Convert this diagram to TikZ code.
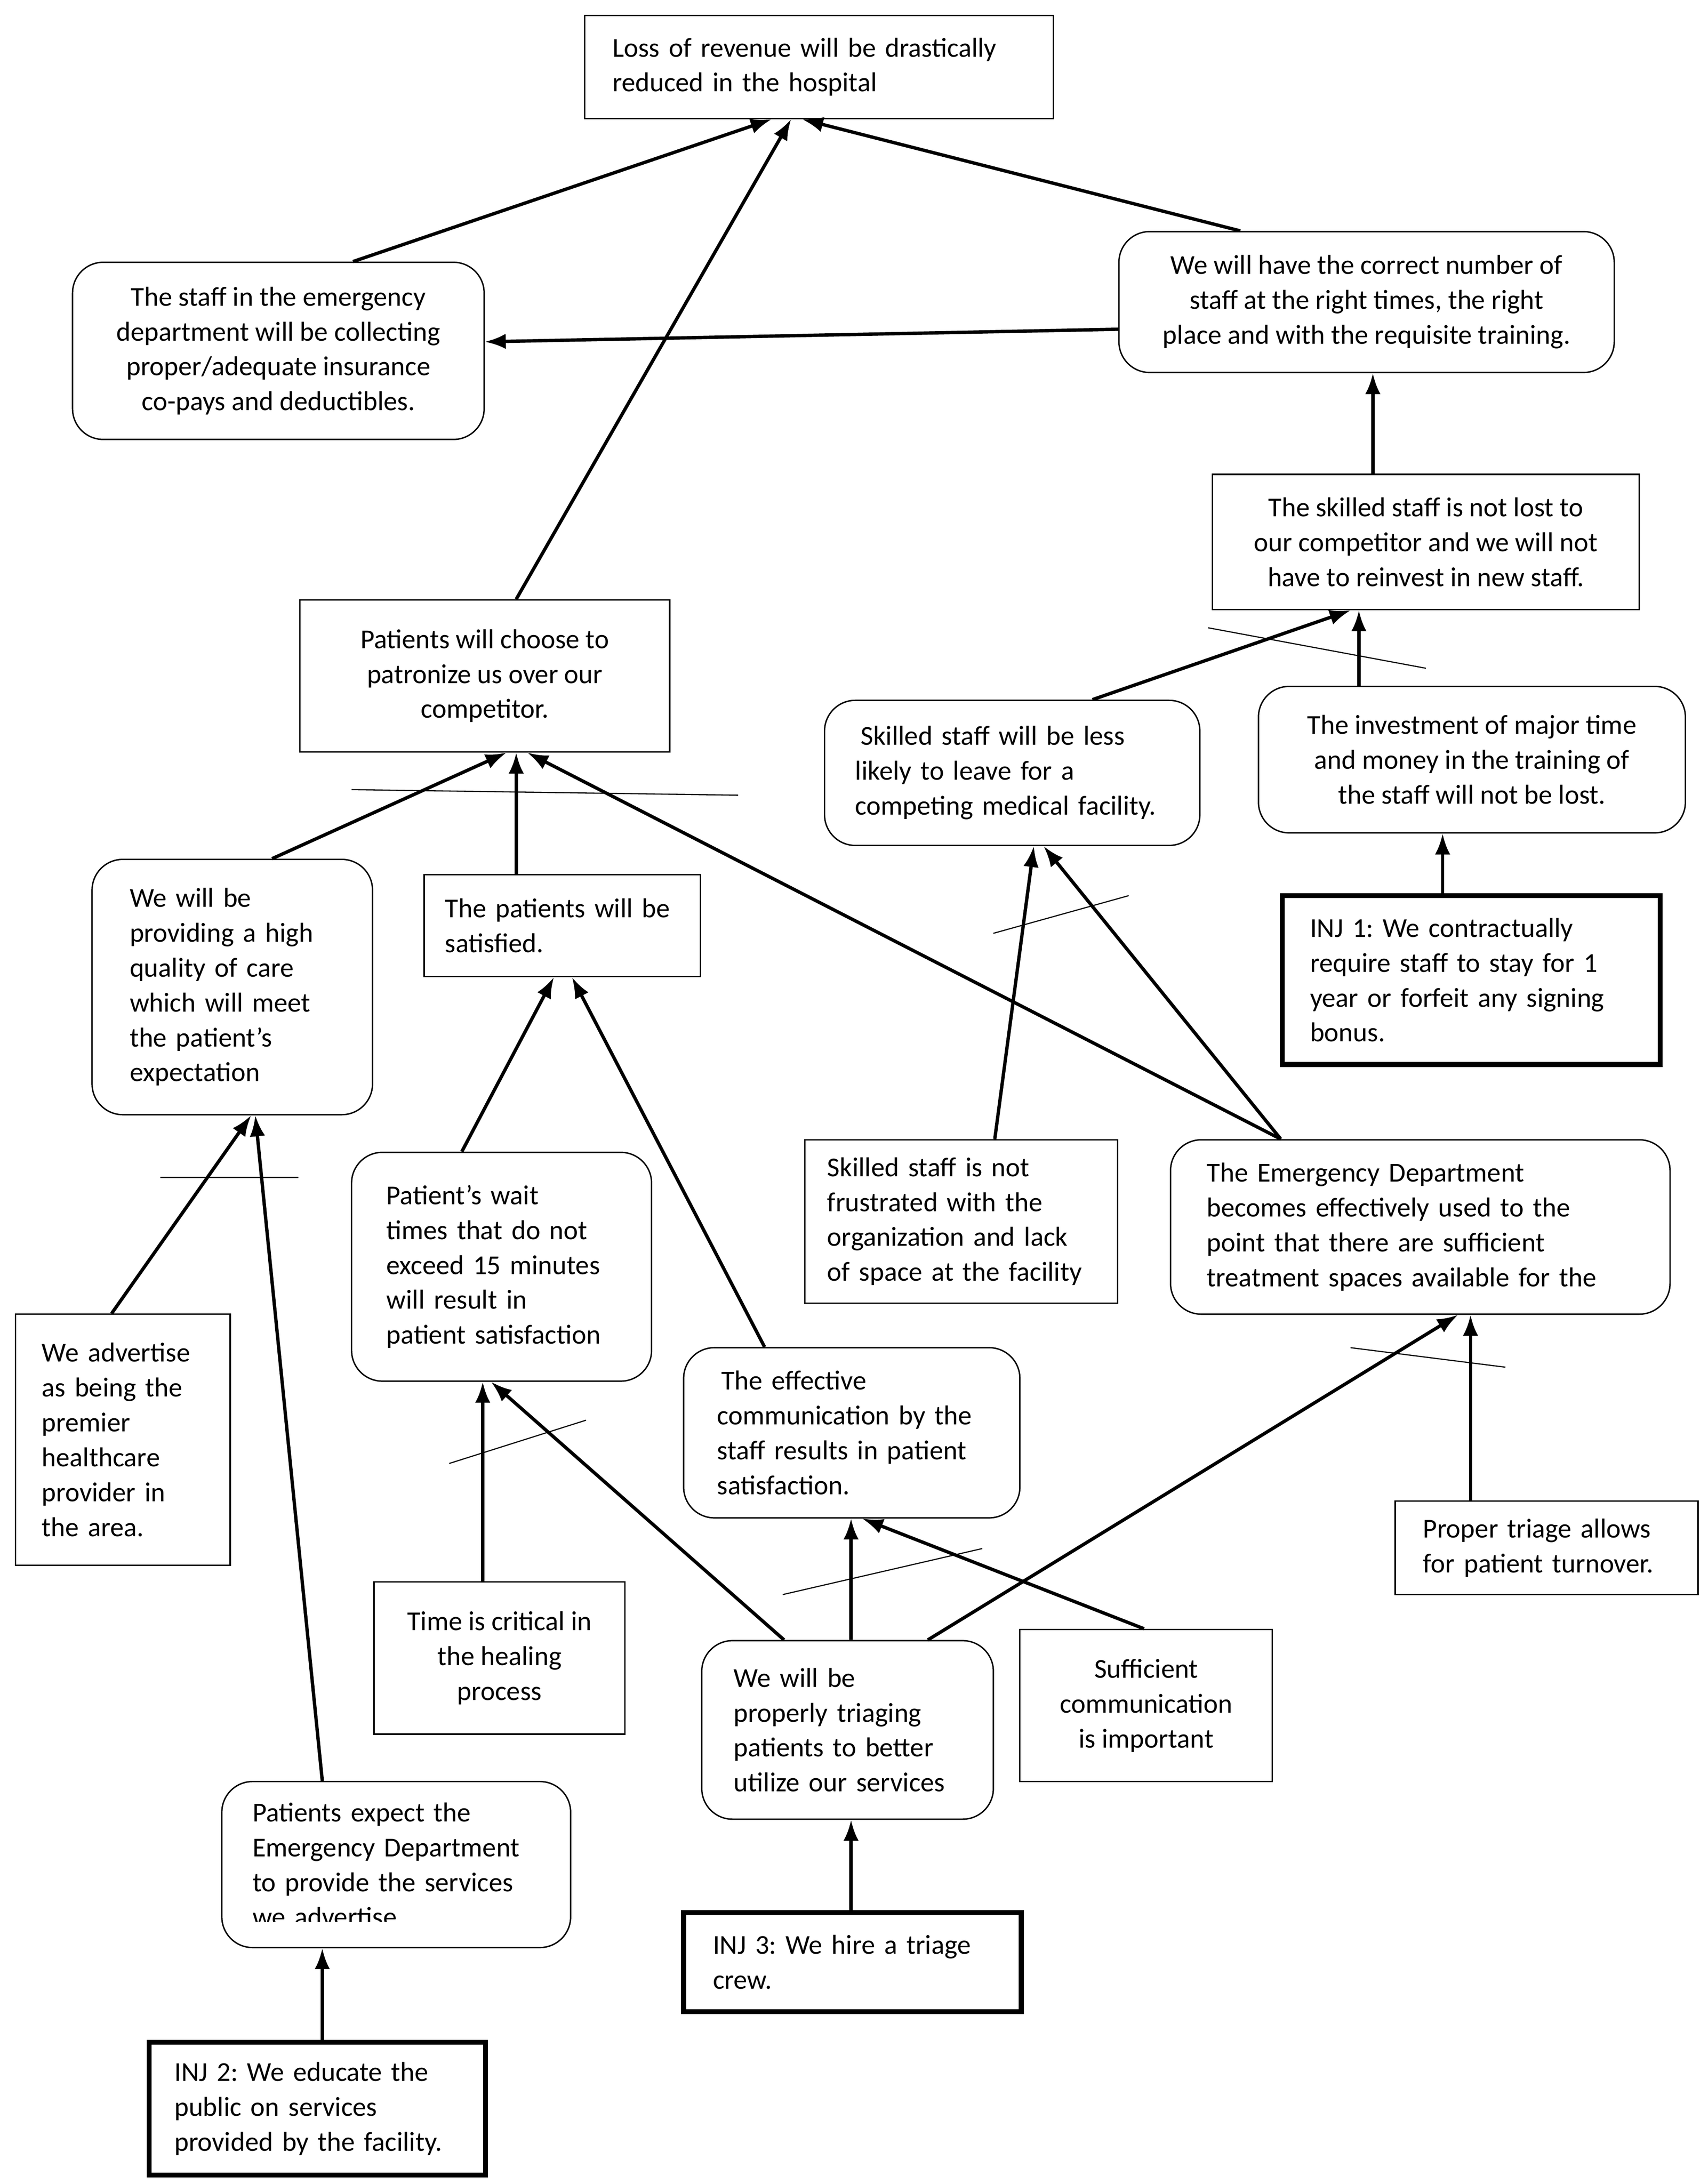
\documentclass[tikz,border=0pt]{standalone}
\usepackage{fontspec}
\setmainfont{Carlito}
\usetikzlibrary{arrows.meta, positioning}
\frenchspacing

\begin{document}
\begin{tikzpicture}[
            x=1pt, y=-1pt,
            font=\fontsize{19.6}{25}\selectfont,
            % Box Styles
            plain/.style={
                rectangle,
                draw=black,
                line width=1pt,
                inner sep=0pt,
                align=left
            },
            soft/.style={
                plain,
                rounded corners=22pt
            },
            inj/.style={
                plain,
                line width=3.5pt
            },
            line/.style={
                draw,
                -{Latex[length=15pt,width=11pt]},
                line width=2.4pt
            },
            bar/.style={
                draw,
                line width=0.8pt
            }
        ]
        \useasboundingbox (0,0) rectangle (1224,1565.5);

        % --- Nodes ---
        \node [plain, minimum width=336pt, minimum height=74pt, text width=296pt] (loss) at (587,48) {Loss of revenue will be drastically\\reduced in the hospital};
        \node [soft, minimum width=295pt, minimum height=127pt, align=center] (collect) at (199.5,251.5) {The staff in the emergency\\department will be collecting\\proper/adequate insurance\\co-pays and deductibles.};
        \node [soft, minimum width=355pt, minimum height=101pt, align=center] (correct) at (979.5,216.5) {We will have the correct number of\\staff at the right times, the right\\place and with the requisite training.};
        \node [plain, minimum width=306pt, minimum height=97pt, align=center] (notlost) at (1022,388.5) {The skilled staff is not lost to\\our competitor and we will not\\have to reinvest in new staff.};
        \node [plain, minimum width=265pt, minimum height=109pt, align=center] (choose) at (347.5,484.5) {Patients will choose to\\patronize us over our\\competitor.};
        \node [soft, minimum width=269pt, minimum height=104pt, text width=225pt] (less) at (725.5,554) {\hspace*{4pt}Skilled staff will be less\\likely to leave for a\\competing medical facility.};
        \node [soft, minimum width=306pt, minimum height=105pt, align=center] (invest) at (1055,544.5) {The investment of major time\\and money in the training of\\the staff will not be lost.};
        \node [soft, minimum width=201pt, minimum height=183pt, text width=147pt] (quality) at (166.5,707.5) {We will be\\providing a high\\quality of care\\which will meet\\the patient’s\\expectation};
        \node [plain, minimum width=198pt, minimum height=73pt, text width=168pt] (satisfied) at (403,663.5) {The patients will be\\satisfied.};
        \node [inj, minimum width=271pt, minimum height=121pt, text width=231pt] (inj1) at (1054.5,702.5) {INJ 1: We contractually\\require staff to stay for 1\\year or forfeit any signing\\bonus.};
        \node [soft, minimum width=215pt, minimum height=164pt, text width=165pt] (wait) at (359.5,908) {Patient’s wait\\times that do not\\exceed 15 minutes\\will result in\\patient satisfaction};
        \node [plain, minimum width=224pt, minimum height=117pt, text width=192pt] (frustrated) at (689,875.5) {Skilled staff is not\\frustrated with the\\organization and lack\\of space at the facility};
        \node [soft, minimum width=358pt, minimum height=125pt, text width=306pt] (edused) at (1018,879.5) {The Emergency Department\\becomes effectively used to the\\point that there are sufficient\\treatment spaces available for the};
        \node [plain, minimum width=154pt, minimum height=180pt, text width=116pt] (advertise) at (88,1032) {We advertise\\as being the\\premier\\healthcare\\provider in\\the area.};
        \node [soft, minimum width=241pt, minimum height=122pt, text width=193pt] (effective) at (610.5,1027) {\hspace*{3pt}The effective\\communication by the\\staff results in patient\\satisfaction.};
        \node [plain, minimum width=217pt, minimum height=67pt, text width=177pt] (triage) at (1108.5,1109.5) {Proper triage allows\\for patient turnover.};
        \node [plain, minimum width=180pt, minimum height=109pt, align=center] (timecrit) at (358,1188.5) {Time is critical in\\the healing\\process};
        \node [soft, minimum width=209pt, minimum height=128pt, text width=163pt] (triaging) at (607.5,1240) {We will be\\properly triaging\\patients to better\\utilize our services};
        \node [plain, minimum width=181pt, minimum height=109pt, align=center] (sufficient) at (821.5,1222.5) {Sufficient\\communication\\is important};
        \node [soft, minimum width=250pt, minimum height=119pt, text width=206pt] (expect) at (284,1336.5) {Patients expect the\\Emergency Department\\to provide the services\\we advertise};
        \node [inj, minimum width=242pt, minimum height=71pt, text width=200pt] (inj3) at (611,1406.5) {INJ 3: We hire a triage\\crew.};
        \node [inj, minimum width=241pt, minimum height=95pt, text width=205pt] (inj2) at (227.5,1511.5) {INJ 2: We educate the\\public on services\\provided by the facility.};

        % last line of the box is cut off
        \fill [white] (176,1377.5) rectangle (392,1393.5);

        % --- Edges ---
        \path [line] ([xshift=53.5pt]collect.north) -- ([xshift=-34pt]loss.south);
        \path [line] ([xshift=22.5pt]choose.north) -- ([xshift=-20pt]loss.south);
        \path [line] ([xshift=-90.5pt]correct.north) -- ([xshift=-12pt]loss.south);
        \path [line] ([yshift=-19.5pt]correct.west) -- ([yshift=6.5pt]collect.east);
        \path [line] ([xshift=-38pt]notlost.north) -- ([xshift=4.5pt]correct.south);
        \path [line] ([xshift=57.5pt]less.north) -- ([xshift=-54pt]notlost.south);
        \path [line] ([xshift=-81pt]invest.north) -- ([xshift=-48pt]notlost.south);
        \path [line] ([xshift=-20.5pt]inj1.north) -- ([xshift=-21pt]invest.south);
        \path [line] ([xshift=28.5pt]quality.north) -- ([xshift=15.5pt]choose.south);
        \path [line] ([xshift=-33pt]satisfied.north) -- ([xshift=22.5pt]choose.south);
        \path [line] ([xshift=-100pt]edused.north) -- ([xshift=30.5pt]choose.south);
        \path [line] ([xshift=24pt]frustrated.north) -- ([xshift=15.5pt]less.south);
        \path [line] ([xshift=-100pt]edused.north) -- ([xshift=22.5pt]less.south);
        \path [line] ([xshift=-28.5pt]wait.north) -- ([xshift=-6pt]satisfied.south);
        \path [line] ([xshift=-62.5pt]effective.north) -- ([xshift=7pt]satisfied.south);
        \path [line] ([xshift=-8pt]advertise.north) -- ([xshift=13.5pt]quality.south);
        \path [line] ([xshift=-53pt]expect.north) -- ([xshift=16.5pt]quality.south);
        \path [line] ([xshift=-12pt]timecrit.north) -- ([xshift=-13.5pt]wait.south);
        \path [line] ([xshift=-45.5pt]triaging.north) -- ([xshift=-7.5pt]wait.south);
        \path [line] ([xshift=2.5pt]triaging.north) -- ([xshift=-0.5pt]effective.south);
        \path [line] ([xshift=-1.5pt]sufficient.north) -- ([xshift=7.5pt]effective.south);
        \path [line] ([xshift=57.5pt]triaging.north) -- ([xshift=27pt]edused.south);
        \path [line] ([xshift=-54.5pt]triage.north) -- ([xshift=36pt]edused.south);
        \path [line] ([xshift=-1pt]inj3.north) -- ([xshift=2.5pt]triaging.south);
        \path [line] ([xshift=3.5pt]inj2.north) -- ([xshift=-53pt]expect.south);

        % --- Crossing Bars ---
        \path [bar] (866,450) -- (1022,479);
        \path [bar] (252,566) -- (529,570);
        \path [bar] (712,669) -- (809,642);
        \path [bar] (115,844) -- (214,844);
        \path [bar] (322,1049) -- (420,1018);
        \path [bar] (561,1143) -- (704,1110);
        \path [bar] (968,966) -- (1079,980);

        \end{tikzpicture}
\end{document}
